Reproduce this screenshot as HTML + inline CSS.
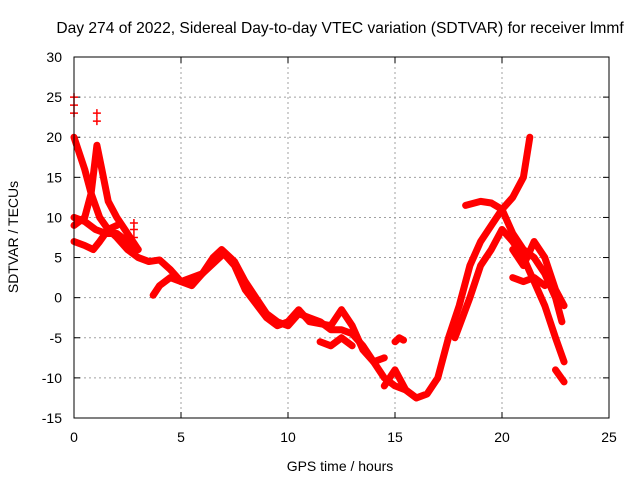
<!DOCTYPE html>
<html><head><meta charset="utf-8">
<style>
body{margin:0;background:#fff;font-family:"Liberation Sans",sans-serif}
svg text{font-family:"Liberation Sans",sans-serif;font-size:14px;fill:#000}
</style></head>
<body>
<svg id="chart" width="640" height="480" viewBox="0 0 640 480" xmlns="http://www.w3.org/2000/svg">
<rect width="640" height="480" fill="#fff"/>
<text x="340" y="33" text-anchor="middle" style="font-size:15.6px">Day 274 of 2022, Sidereal Day-to-day VTEC variation (SDTVAR) for receiver lmmf</text>
<text x="340" y="471" text-anchor="middle">GPS time / hours</text>
<text transform="translate(18,237) rotate(-90)" text-anchor="middle">SDTVAR / TECUs</text>
<g id="grid"></g>
<g id="ticks"></g>
<g id="series"></g>
<rect x="74" y="57" width="535" height="361" fill="none" stroke="#000" stroke-width="1"/>
</svg>
<script>
const xTicks=[0,5,10,15,20,25];
const yTicks=[-15,-10,-5,0,5,10,15,20,25,30];
const t1=[[0,20],[0.5,16],[0.8,13],[1.2,10],[1.6,8.5],[2,7.5],[2.5,6],[3,5],[3.5,4.5],[4,4.7],[4.5,3.5],[5,2],[5.5,1.5],[6,3],[6.5,5],[6.9,6],[7.5,4.5],[8,2],[8.5,0],[9,-2],[9.5,-3],[10,-3.5],[10.5,-2],[11,-2.5],[11.5,-3],[12,-4],[12.5,-4],[13,-4.5],[13.5,-6],[14,-8],[14.5,-10],[15,-11],[15.5,-11.5],[16,-12.5],[16.5,-12],[17,-10],[17.5,-5],[18,-1],[18.5,4],[19,7],[19.5,9],[20,11],[20.5,12.5],[21,15],[21.3,20]];
const t2=[[0,9],[0.5,10],[0.8,13],[1.07,19],[1.3,16],[1.6,12],[2,10],[2.5,8],[3,6]];
const t3=[[0,10],[0.5,9.5],[1,8.5],[1.5,8],[2,8],[2.5,7],[3,6]];
const t4=[[0,7],[0.5,6.5],[0.9,6],[1.2,7],[1.6,8.5],[2,9]];
const t5=[[3.7,0.3],[4,1.5],[4.5,2.5],[5,2],[6,3],[7,5.5],[7.5,4],[8,1],[9,-2.5],[9.5,-3.5],[10,-3],[10.5,-1.5],[11,-3],[12,-3.5],[12.5,-1.5],[13,-3.5],[13.5,-6.5],[14,-8],[14.5,-7.5]];
const t6=[[18.3,11.5],[19,12],[19.5,11.8],[20,11],[20.5,8],[21,6],[21.5,5],[22,3],[22.5,0],[22.8,-3]];
const t7=[[17.8,-5],[18.5,0],[19,4],[19.5,6],[20,8.5],[20.5,7],[21,5],[21.5,2],[22,-1],[22.5,-5],[22.9,-8]];
const t8=[[20.5,6],[21,4],[21.5,7],[22,5],[22.5,1],[22.9,-1]];
const t9=[[20.5,2.5],[21,2],[21.5,2.5],[22,1.5]];
const t10=[[22.5,-9],[22.9,-10.5]];
const t11=[[15,-5.5],[15.2,-5],[15.4,-5.3]];
const t12=[[11.5,-5.5],[12,-6],[12.5,-5],[13,-6]];
const t13=[[14.5,-11],[15,-9],[15.5,-11.5],[16,-12.5]];
const spikes=[[0,25],[0,24],[0,23],[1.07,23],[1.07,22],[2.8,9.3],[2.8,8.5],[2.8,7.5]];
const tracks=[t1,t2,t3,t4,t5,t6,t7,t8,t9,t10,t11,t12,t13];
const NS="http://www.w3.org/2000/svg";
const X=h=>74+h*21.4;
const Y=v=>57+(30-v)*8.022;
const grid=document.getElementById('grid'),ticks=document.getElementById('ticks'),ser=document.getElementById('series');
function mk(tag,attrs,parent){const e=document.createElementNS(NS,tag);for(const k in attrs)e.setAttribute(k,attrs[k]);parent.appendChild(e);return e;}
xTicks.forEach(t=>{
 const x=X(t);
 if(t>0&&t<25){const g=mk('line',{x1:x,y1:57,x2:x,y2:418,stroke:'#a0a0a0','stroke-dasharray':'2,3'},grid);
 
 }
 mk('line',{x1:x,y1:418,x2:x,y2:412,stroke:'#000'},ticks);
 mk('line',{x1:x,y1:57,x2:x,y2:63,stroke:'#000'},ticks);
 const l=mk('text',{x:x,y:442,'text-anchor':'middle'},ticks);l.textContent=t;
 
 
});
yTicks.forEach(t=>{
 const y=Y(t);
 if(t>-15&&t<30){const g=mk('line',{x1:74,y1:y,x2:609,y2:y,stroke:'#a0a0a0','stroke-dasharray':'2,3'},grid);
 
 }
 mk('line',{x1:74,y1:y,x2:80,y2:y,stroke:'#000'},ticks);
 mk('line',{x1:609,y1:y,x2:603,y2:y,stroke:'#000'},ticks);
 const l=mk('text',{x:62,y:y+5,'text-anchor':'end'},ticks);l.textContent=t;
 
 
});
tracks.forEach(tr=>{
 const p=mk('polyline',{points:tr.map(d=>X(d[0])+','+Y(d[1])).join(' '),fill:'none',stroke:'#ff0000','stroke-width':7,'stroke-linejoin':'round','stroke-linecap':'round'},ser);
 
 
});
spikes.forEach(d=>{
 const x=X(d[0]),y=Y(d[1]);
 const p=mk('path',{d:`M${x-4},${y}H${x+4}M${x},${y-4}V${y+4}`,stroke:'#ff0000','stroke-width':1.5},ser);
 
 
});
</script>
</body></html>
